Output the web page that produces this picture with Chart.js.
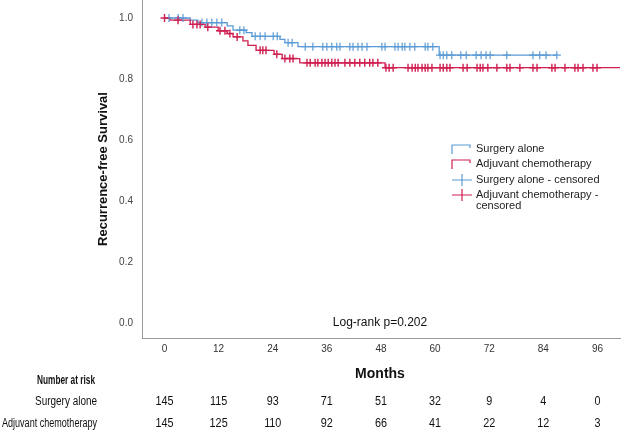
<!DOCTYPE html>
<html>
<head>
<meta charset="utf-8">
<script src="https://cdn.jsdelivr.net/npm/chart.js@4.4.0/dist/chart.umd.min.js"></script>
<style>
  html, body { margin: 0; padding: 0; background: #fff; }
  #wrap { position: relative; width: 622px; height: 430px; }
</style>
</head>
<body>
<div id="wrap"><canvas id="km"></canvas></div>
<script>
// Kaplan-Meier steps: time (months) and survival after each drop
const surgeryTimes = [0, 5.7, 7.4, 13.9, 15.2, 18.1, 19.4, 25.6, 26.7, 29.6, 60.9, 87.0];
const surgerySurv  = [1.0, 0.993, 0.985, 0.974, 0.960, 0.952, 0.940, 0.930, 0.919, 0.906, 0.878, 0.878];
const adjuvantTimes = [0, 1.2, 5.7, 9.0, 11.9, 13.9, 15.2, 17.4, 18.5, 20.3, 24.3, 26.1, 30.0, 48.9, 101];
const adjuvantSurv  = [1.0, 0.993, 0.979, 0.970, 0.958, 0.949, 0.938, 0.925, 0.910, 0.894, 0.881, 0.867, 0.853, 0.837, 0.837];

// censoring times (months)
const surgeryCensored = [1.0, 3.0, 4.1, 8.3, 9.4, 10.5, 11.6, 12.7, 16.7, 17.6, 20.1, 21.2, 22.3, 24.1, 25.0, 27.4, 28.3,
  31.2, 32.9, 35.1, 36.0, 37.1, 38.2, 38.9, 41.1, 41.8, 42.9, 43.8, 44.9, 48.2, 48.9, 51.1, 51.8, 52.7, 53.3, 54.4, 55.5,
  57.8, 58.4, 59.5, 61.1, 61.8, 62.6, 63.7, 65.7, 66.9, 69.1, 70.2, 71.3, 72.2, 75.9, 81.7, 83.2, 84.6, 87.0];
const adjuvantCensored = [0, 3.0, 6.3, 7.2, 7.9, 9.6, 12.3, 13.4, 14.5, 16.1, 21.2, 21.8, 22.5, 24.9, 26.7, 27.8, 28.5,
  31.6, 32.3, 33.4, 34.0, 34.9, 35.6, 36.3, 37.1, 37.8, 38.5, 40.0, 41.1, 42.2, 43.3, 44.4, 45.5, 46.2, 47.3,
  49.1, 49.8, 50.7, 54.0, 54.9, 55.6, 56.2, 57.1, 57.8, 58.4, 59.3, 61.1, 61.8, 62.6, 63.3, 66.2, 67.1, 69.3, 70.0,
  70.6, 71.7, 73.7, 75.9, 76.6, 78.8, 81.7, 82.6, 85.9, 86.6, 88.8, 91.0, 91.7, 92.8, 95.0, 95.9];

// number at risk table
const monthTicks = [0, 12, 24, 36, 48, 60, 72, 84, 96];
const riskSurgery = [145, 115, 93, 71, 51, 32, 9, 4, 0];
const riskAdjuvant = [145, 125, 110, 92, 66, 41, 22, 12, 3];

const BLUE = '#5b9bd5';
const RED = '#cf1f50';

function survAt(times, surv, t) {
  let s = surv[0];
  for (let i = 0; i < times.length; i++) if (times[i] <= t) s = surv[i];
  return s;
}
const stepPts = (times, surv) => times.map((t, i) => ({ x: t, y: surv[i] }));
const censPts = (cens, times, surv) => cens.map(t => ({ x: t, y: survAt(times, surv, t) }));

// squeeze text horizontally, the original uses a condensed face
function narrowText(ctx, txt, x, y, k) {
  const w = ctx.measureText(txt).width;
  ctx.fillText(txt, x, y, w * k);
}

// draws legend, annotation and risk table
const extras = {
  id: 'extras',
  afterDraw(chart) {
    const ctx = chart.ctx;
    const xs = chart.scales.x;
    ctx.save();
    ctx.fillStyle = '#111';

    // y axis title
    ctx.save();
    ctx.translate(103, 169);
    ctx.rotate(-Math.PI / 2);
    ctx.font = 'bold 13px "Liberation Sans", Arial';
    ctx.textAlign = 'center';
    ctx.textBaseline = 'middle';
    ctx.fillText('Recurrence-free Survival', 0, 0);
    ctx.restore();

    ctx.textBaseline = 'middle';
    ctx.font = '12px "Liberation Sans", Arial';
    ctx.textAlign = 'center';
    ctx.fillText('Log-rank p=0.202', 380, 323);

    ctx.font = 'bold 14px "Liberation Sans", Arial';
    ctx.fillText('Months', 380, 374);

    // legend
    ctx.textAlign = 'left';
    ctx.font = '11px "Liberation Sans", Arial';
    const lx = 452, tx = 476;
    const rows = [149, 164, 180, 195];
    ctx.lineWidth = 1.2;
    [BLUE, RED].forEach((c, i) => {
      const y = rows[i];
      ctx.strokeStyle = c;
      ctx.beginPath();
      ctx.moveTo(lx, y + 5); ctx.lineTo(lx, y - 4); ctx.lineTo(lx + 18, y - 4); ctx.lineTo(lx + 18, y - 1);
      ctx.stroke();
    });
    [BLUE, RED].forEach((c, i) => {
      const y = rows[i + 2];
      ctx.strokeStyle = c;
      ctx.beginPath();
      ctx.moveTo(lx, y); ctx.lineTo(lx + 20, y);
      ctx.moveTo(lx + 10, y - 6); ctx.lineTo(lx + 10, y + 6);
      ctx.stroke();
    });
    ctx.fillStyle = '#222';
    ctx.fillText('Surgery alone', tx, rows[0]);
    ctx.fillText('Adjuvant chemotherapy', tx, rows[1]);
    ctx.fillText('Surgery alone - censored', tx, rows[2]);
    ctx.fillText('Adjuvant chemotherapy -', tx, rows[3]);
    ctx.fillText('censored', tx, rows[3] + 11);

    // number at risk
    ctx.fillStyle = '#111';
    ctx.textAlign = 'right';
    ctx.font = 'bold 12px "Liberation Sans", Arial';
    ctx.fillText('Number at risk', 95, 381, 58);
    ctx.font = '12px "Liberation Sans", Arial';
    ctx.fillText('Surgery alone', 97, 402, 62);
    ctx.fillText('Adjuvant chemotherapy', 97, 424, 95);
    ctx.textAlign = 'center';
    monthTicks.forEach((m, i) => {
      const px = xs.getPixelForValue(m);
      narrowText(ctx, String(riskSurgery[i]), px, 402, 0.9);
      narrowText(ctx, String(riskAdjuvant[i]), px, 424, 0.9);
    });
    ctx.restore();
  }
};

function noPad(s) {
  s.paddingTop = 0; s.paddingBottom = 0; s.paddingLeft = 0; s.paddingRight = 0;
}

new Chart(document.getElementById('km'), {
  type: 'scatter',
  data: {
    datasets: [
      { label: 'Adjuvant chemotherapy - censored', data: censPts(adjuvantCensored, adjuvantTimes, adjuvantSurv),
        pointStyle: 'cross', pointRadius: 4, borderColor: RED, backgroundColor: RED, pointBorderWidth: 1.4, showLine: false },
      { label: 'Surgery alone - censored', data: censPts(surgeryCensored, surgeryTimes, surgerySurv),
        pointStyle: 'cross', pointRadius: 4, borderColor: BLUE, backgroundColor: BLUE, pointBorderWidth: 1.2, showLine: false },
      { label: 'Adjuvant chemotherapy', data: stepPts(adjuvantTimes, adjuvantSurv), showLine: true, stepped: 'before',
        borderColor: RED, borderWidth: 1.3, pointRadius: 0, fill: false },
      { label: 'Surgery alone', data: stepPts(surgeryTimes, surgerySurv), showLine: true, stepped: 'before',
        borderColor: BLUE, borderWidth: 1.3, pointRadius: 0, fill: false }
    ]
  },
  options: {
    responsive: true, maintainAspectRatio: false, animation: false,
    layout: { autoPadding: false, padding: { left: 0, right: 2, top: 0, bottom: 0 } },
    plugins: { legend: { display: false }, tooltip: { enabled: false } },
    scales: {
      x: {
        type: 'linear', min: -4.99, max: 101,
        grid: { display: false, drawTicks: false },
        border: { display: true, color: '#9a9a9a', width: 1 },
        ticks: { stepSize: 12, includeBounds: false, padding: 5, color: '#333', font: { size: 10, family: '"Liberation Sans", Arial' } },
        afterFit: s => { s.height = 92; noPad(s); }
      },
      y: {
        min: -0.049, max: 1.059,
        grid: { display: false, drawTicks: false },
        border: { display: true, color: '#9a9a9a', width: 1 },
        ticks: { stepSize: 0.2, includeBounds: false, padding: 9, color: '#444',
          font: { size: 10, family: '"Liberation Sans", Arial' },
          callback: v => v.toFixed(1) },
        afterFit: s => { s.width = 142; noPad(s); }
      }
    }
  },
  plugins: [extras]
});
</script>
</body>
</html>
